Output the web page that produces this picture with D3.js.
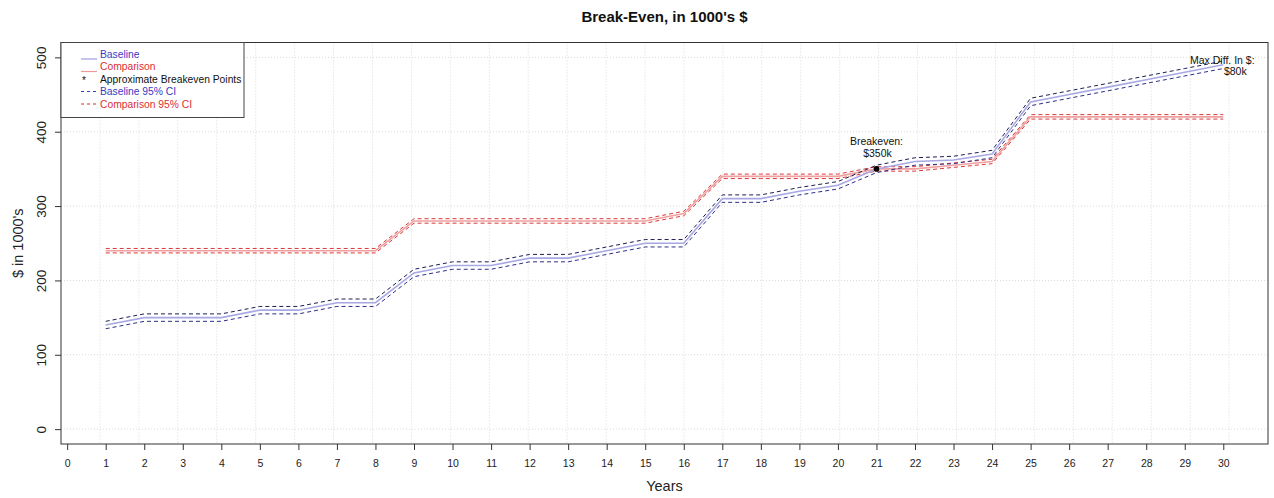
<!DOCTYPE html>
<html>
<head>
<meta charset="utf-8">
<script src="https://cdn.jsdelivr.net/npm/d3@7"></script>
<style>
  html, body { margin: 0; padding: 0; background: #fff; }
  svg { display: block; font-family: "Liberation Sans", Arial, Helvetica, sans-serif; }
</style>
</head>
<body>
<svg id="chart" width="1274" height="498"></svg>
<script>
// Years on the horizontal axis
const years = [1,2,3,4,5,6,7,8,9,10,11,12,13,14,15,16,17,18,19,20,21,22,23,24,25,26,27,28,29,30];

// Cumulative cost, baseline plan (1000's $)
const baseline      = [140,150,150,150,160,160,170,170,210,220,220,230,230,240,250,250,310,310,320,328,350,360,362,370,440,450,460,470,480,490];
const baselineUpper = [145,155,155,155,165,165,175,175,215,225,225,235,235,245,255,255,315,315,325,333,355,365,367,375,445,455,465,475,485,495];
const baselineLower = [135,145,145,145,155,155,165,165,205,215,215,225,225,235,245,245,305,305,315,323,345,355,357,365,435,445,455,465,475,485];

// Cumulative cost, comparison plan (1000's $)
const comparison      = [240,240,240,240,240,240,240,240,280,280,280,280,280,280,280,290,340,340,340,340,350,350,355,360,420,420,420,420,420,420];
const comparisonUpper = [243,243,243,243,243,243,243,243,283,283,283,283,283,283,283,293,343,343,343,343,353,353,358,363,423,423,423,423,423,423];
const comparisonLower = [237,237,237,237,237,237,237,237,277,277,277,277,277,277,277,287,337,337,337,337,347,347,352,357,417,417,417,417,417,417];

// Breakeven point and end-of-horizon annotation
const breakevenYear = [21];
const breakevenValue = [350];
const breakevenLabel = ["Breakeven:", "$350k"];
const maxDiffLabel = ["Max Diff. In $:", "$80k"];

// Axis ticks
const xTicks = [0,1,2,3,4,5,6,7,8,9,10,11,12,13,14,15,16,17,18,19,20,21,22,23,24,25,26,27,28,29,30];
const yTicks = [0,100,200,300,400,500];

// Legend entries
const legendItems = [
  { label: "Baseline", kind: "line", color: "#3a3ac4", stroke: "#9d9de0" },
  { label: "Comparison", kind: "line", color: "#d93030", stroke: "#ef9a9a" },
  { label: "Approximate Breakeven Points", kind: "star", color: "#111", stroke: "#111" },
  { label: "Baseline 95% CI", kind: "dash", color: "#3a3ac4", stroke: "#3a3ac4" },
  { label: "Comparison 95% CI", kind: "dash", color: "#d93030", stroke: "#d93030" }
];

const svg = d3.select("#chart");
const box = { left: 61, right: 1268, top: 42.5, bottom: 444 };

const x = d3.scaleLinear().domain([-0.16, 31.16]).range([box.left, box.right]);
const y = d3.scaleLinear().domain([-20, 520]).range([box.bottom, box.top]);

// Title
svg.append("text")
  .attr("x", (box.left + box.right) / 2).attr("y", 22)
  .attr("text-anchor", "middle")
  .attr("font-size", 15).attr("font-weight", "bold").attr("fill", "#111")
  .text("Break-Even, in 1000's $");

// Grid: vertical lines split the plot width into 31 equal cells, horizontal at y ticks
const [x0, x1] = x.domain();
const vGrid = d3.range(1, 31).map(k => x0 + k * (x1 - x0) / 31);
const grid = svg.append("g").attr("stroke", "#dadada").attr("stroke-dasharray", "1,2").attr("stroke-width", 1);
grid.selectAll("line.v").data(vGrid).join("line").attr("class", "v")
  .attr("x1", d => x(d)).attr("x2", d => x(d)).attr("y1", box.top).attr("y2", box.bottom);
grid.selectAll("line.h").data(yTicks).join("line").attr("class", "h")
  .attr("x1", box.left).attr("x2", box.right).attr("y1", d => y(d)).attr("y2", d => y(d));

// Series lines
const line = d3.line().x((d, i) => x(years[i])).y(d => y(d));

function drawSeries(values, stroke, width, dash) {
  svg.append("path").datum(values)
    .attr("fill", "none").attr("stroke", stroke).attr("stroke-width", width)
    .attr("stroke-dasharray", dash || null)
    .attr("d", line);
}

drawSeries(comparison, "#f0a0a0", 1.6);
drawSeries(comparisonUpper, "#d93a3a", 1, "4,3");
drawSeries(comparisonLower, "#d93a3a", 1, "4,3");

drawSeries(baseline, "#a8a8e4", 1.6);
drawSeries(baselineUpper, "#1e1e50", 1, "4,3");
drawSeries(baselineLower, "#2e2e8a", 1, "4,3");

// Breakeven marker
svg.selectAll("circle.be").data(breakevenYear).join("circle").attr("class", "be")
  .attr("cx", d => x(d)).attr("cy", (d, i) => y(breakevenValue[i])).attr("r", 2.8).attr("fill", "#000");

// Annotations
const be = svg.append("g").attr("font-size", 10.5).attr("fill", "#111").attr("text-anchor", "middle");
be.append("text").attr("x", x(breakevenYear[0])).attr("y", y(breakevenValue[0]) - 24).text(breakevenLabel[0]);
be.append("text").attr("x", x(breakevenYear[0]) + 1).attr("y", y(breakevenValue[0]) - 12).text(breakevenLabel[1]);

const md = svg.append("g").attr("font-size", 10.5).attr("fill", "#111").attr("text-anchor", "middle");
md.append("text").attr("x", x(years[29]) - 1).attr("y", y(baseline[29]) - 1).text(maxDiffLabel[0]);
md.append("text").attr("x", x(years[29]) + 12).attr("y", y(baseline[29]) + 10).text(maxDiffLabel[1]);

// Axes
const xAxis = svg.append("g").attr("transform", `translate(0,${box.bottom})`)
  .call(d3.axisBottom(x).tickValues(xTicks).tickFormat(d3.format("d")).tickSize(6).tickPadding(10));
xAxis.select(".domain").remove();
xAxis.selectAll("line").attr("stroke", "#333");
xAxis.selectAll("text").attr("font-size", 10.5).attr("fill", "#222").attr("font-family", "Liberation Sans, Arial, sans-serif");

const yAxis = svg.append("g").attr("transform", `translate(${box.left},0)`)
  .call(d3.axisLeft(y).tickValues(yTicks).tickFormat(d3.format("d")).tickSize(6));
yAxis.select(".domain").remove();
yAxis.selectAll("line").attr("stroke", "#333");
yAxis.selectAll("text")
  .attr("x", 0).attr("dy", 0).attr("text-anchor", "middle")
  .attr("transform", "translate(-15.5,0) rotate(-90)")
  .attr("font-size", 13.5).attr("fill", "#222").attr("font-family", "Liberation Sans, Arial, sans-serif");

// Plot frame
svg.append("rect")
  .attr("x", box.left).attr("y", box.top)
  .attr("width", box.right - box.left).attr("height", box.bottom - box.top)
  .attr("fill", "none").attr("stroke", "#333").attr("stroke-width", 1);

// Axis titles
svg.append("text")
  .attr("x", (box.left + box.right) / 2).attr("y", 491)
  .attr("text-anchor", "middle").attr("font-size", 14.5).attr("fill", "#222")
  .text("Years");
svg.append("text")
  .attr("transform", `translate(23,${(box.top + box.bottom) / 2}) rotate(-90)`)
  .attr("text-anchor", "middle").attr("font-size", 14.5).attr("fill", "#222")
  .text("$ in 1000's");

// Legend
const lg = svg.append("g");
lg.append("rect").attr("x", box.left).attr("y", box.top)
  .attr("width", 183).attr("height", 75)
  .attr("fill", "#fff").attr("stroke", "#444").attr("stroke-width", 1);
legendItems.forEach((item, i) => {
  const cy = 54 + i * 12.5;
  if (item.kind === "line") {
    lg.append("line").attr("x1", 81).attr("x2", 97).attr("y1", cy + 5).attr("y2", cy + 5)
      .attr("stroke", item.stroke).attr("stroke-width", 1.2);
  } else if (item.kind === "dash") {
    lg.append("line").attr("x1", 81).attr("x2", 97).attr("y1", cy).attr("y2", cy)
      .attr("stroke", item.stroke).attr("stroke-width", 1).attr("stroke-dasharray", "3,3");
  } else {
    lg.append("text").attr("x", 82).attr("y", cy + 5).attr("font-size", 10).attr("fill", item.stroke).text("*");
  }
  lg.append("text").attr("x", 100).attr("y", cy + 3.7)
    .attr("font-size", 10.3).attr("fill", item.color).text(item.label);
});
</script>
</body>
</html>
